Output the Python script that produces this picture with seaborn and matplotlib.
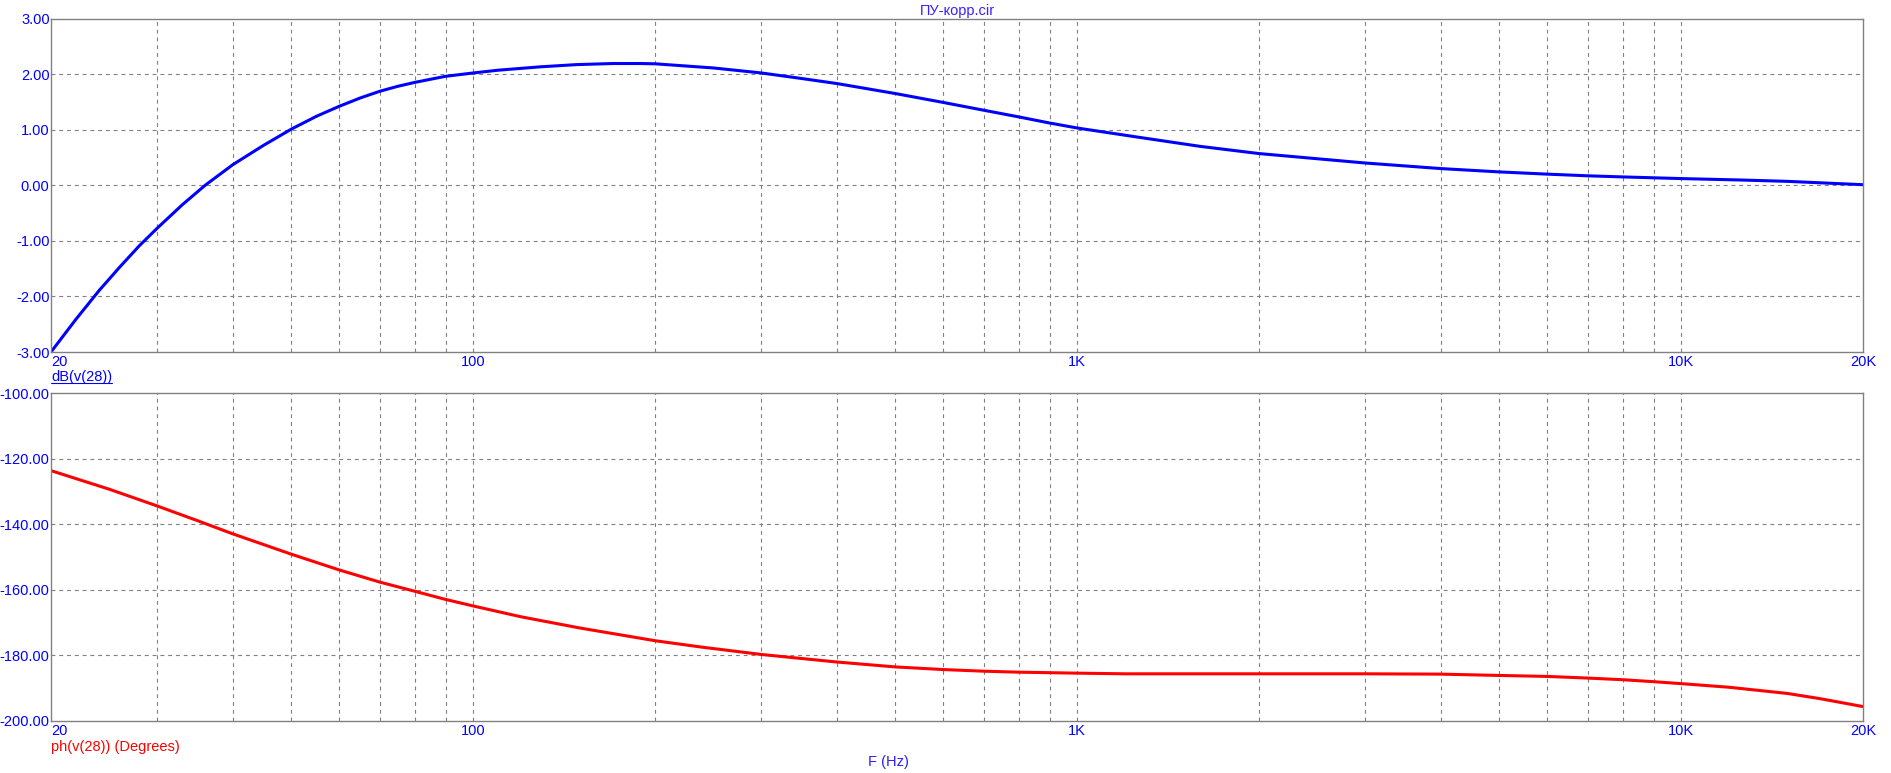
import numpy as np
import pandas as pd
import matplotlib
matplotlib.use('Agg')
import matplotlib.pyplot as plt
from matplotlib.lines import Line2D
from matplotlib.ticker import FixedLocator, NullFormatter, NullLocator
import seaborn as sns

# ---- data ----
freq = [20, 22, 24, 26, 28, 30, 33, 36, 40, 45, 50, 55, 60, 65, 70, 75, 80,
        90, 100, 110, 129, 148, 170, 189, 200, 250, 300, 350, 400, 500, 600,
        700, 800, 900, 1000, 1261, 1597, 2000, 3000, 4000, 5000, 6000, 7000,
        8000, 10000, 12500, 15000, 20000]
gain_db = [-3.0, -2.41, -1.90, -1.47, -1.09, -0.77, -0.35, 0.0, 0.37, 0.72,
           1.01, 1.24, 1.42, 1.57, 1.69, 1.78, 1.85, 1.96, 2.02, 2.07, 2.13,
           2.17, 2.19, 2.19, 2.185, 2.11, 2.02, 1.92, 1.83, 1.65, 1.49, 1.35,
           1.23, 1.12, 1.03, 0.865, 0.70, 0.57, 0.40, 0.30, 0.24, 0.20, 0.17,
           0.15, 0.12, 0.095, 0.07, 0.01]

ph_freq = [20, 25, 30, 35, 40, 50, 60, 70, 80, 90, 100, 120, 150, 200, 240,
           300, 400, 500, 600, 700, 800, 1000, 1200, 2000, 3000, 4000, 5000,
           6000, 7000, 8000, 9000, 10000, 12000, 15000, 17000, 20000]
phase_deg = [-123.6, -129.3, -134.4, -138.9, -142.9, -149.1, -153.9, -157.6,
             -160.4, -162.9, -164.9, -168.2, -171.6, -175.5, -177.5, -179.7,
             -182.0, -183.5, -184.3, -184.8, -185.1, -185.4, -185.6, -185.6,
             -185.6, -185.7, -186.1, -186.4, -186.9, -187.4, -188.0, -188.6,
             -189.7, -191.6, -193.2, -195.6]

x_ticks = [20, 100, 1000, 10000, 20000]
x_labels = ['20', '100', '1K', '10K', '20K']
x_grid = [30, 40, 50, 60, 70, 80, 90, 100, 200, 300, 400, 500, 600, 700, 800,
          900, 1000, 2000, 3000, 4000, 5000, 6000, 7000, 8000, 9000, 10000]
db_ticks = [3, 2, 1, 0, -1, -2, -3]
ph_ticks = [-100, -120, -140, -160, -180, -200]

title = 'ПУ-корр.cir'
db_label = 'dB(v(28))'
ph_label = 'ph(v(28)) (Degrees)'
f_label = 'F (Hz)'

sns.set_style('white')
plt.rcParams['font.family'] = ['Liberation Sans', 'DejaVu Sans']
plt.rcParams['font.size'] = 10.5

BLUE = '#0000ff'
RED = '#ff0000'
GRID = '#808080'

W, H = 1891, 773
fig = plt.figure(figsize=(W / 100, H / 100), dpi=100)
ax1 = fig.add_axes([51 / W, 1 - 352 / H, 1812 / W, (352 - 18.5) / H])
ax2 = fig.add_axes([51 / W, 1 - 721 / H, 1812 / W, (721 - 393.3) / H])

df1 = pd.DataFrame({'f': freq, 'v': gain_db})
df2 = pd.DataFrame({'f': ph_freq, 'v': phase_deg})
sns.lineplot(data=df1, x='f', y='v', ax=ax1, color=BLUE, lw=2.2, sort=False)
sns.lineplot(data=df2, x='f', y='v', ax=ax2, color=RED, lw=2.2, sort=False)

for ax, yt, ylim in [(ax1, db_ticks, (-3, 3)), (ax2, ph_ticks, (-200, -100))]:
    ax.set_xscale('log')
    ax.set_xlim(20, 20000)
    ax.set_ylim(*ylim)
    ax.set_xlabel('')
    ax.set_ylabel('')
    for g in x_grid:
        ax.axvline(g, color=GRID, lw=0.8, ls=(0, (3.5, 3.5)), zorder=0)
    for v in yt[1:-1]:
        ax.axhline(v, color=GRID, lw=0.8, ls=(0, (3.5, 3.5)), zorder=0)
    ax.xaxis.set_major_locator(FixedLocator(x_ticks))
    ax.xaxis.set_minor_locator(NullLocator())
    ax.xaxis.set_minor_formatter(NullFormatter())
    ax.set_xticklabels(x_labels)
    ax.set_yticks(yt)
    ax.set_yticklabels(['%.2f' % v for v in yt])
    ax.tick_params(length=0, pad=1, colors=BLUE, labelsize=10.5)
    ax.tick_params(axis='x', pad=2)
    ax.xaxis.get_majorticklabels()[0].set_horizontalalignment('left')
    for s in ax.spines.values():
        s.set_color(GRID)
        s.set_linewidth(1.0)
        s.set_visible(True)

fig.text(957 / W, 1 - 11 / H, title, ha='center', va='center', color='#3a1fff', fontsize=10.5)
t_db = fig.text(51 / W, 1 - 377 / H, db_label, ha='left', va='center', color=BLUE, fontsize=10.5)
fig.text(51 / W, 1 - 747 / H, ph_label, ha='left', va='center', color=RED, fontsize=10.5)
fig.text(888 / W, 1 - 762 / H, f_label, ha='center', va='center', color='#2a1fff', fontsize=10.5)

# underline the dB trace name like the simulator does
fig.canvas.draw()
bb = t_db.get_window_extent()
fig.add_artist(Line2D([bb.x0 / W, bb.x1 / W], [(bb.y0 + 1) / H, (bb.y0 + 1) / H],
                      color=BLUE, lw=0.8, transform=fig.transFigure))

fig.savefig('out.png', dpi=100)
